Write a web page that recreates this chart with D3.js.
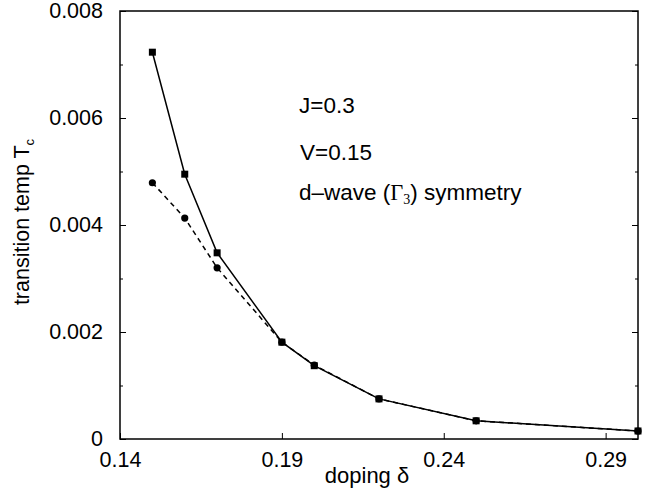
<!DOCTYPE html>
<html>
<head>
<meta charset="utf-8">
<script src="https://cdn.jsdelivr.net/npm/d3@7"></script>
<style>
  body { margin: 0; background: #fff; }
  text { font-family: "Liberation Sans", Arial, sans-serif; }
</style>
</head>
<body>
<div id="chart"></div>
<script>
// doping values (x)
const doping = [0.15, 0.16, 0.17, 0.19, 0.20, 0.22, 0.25, 0.30];
// solid line with squares
const tcSquares = [0.00723, 0.00495, 0.00348, 0.00181, 0.00137, 0.00075, 0.00034, 0.00015];
// dashed line with circles
const tcCircles = [0.00479, 0.00413, 0.00320, 0.00181, 0.00138, 0.00075, 0.00034, 0.00015];
const xTicks = [0.14, 0.19, 0.24, 0.29];
const yTicks = [0, 0.002, 0.004, 0.006, 0.008];
const yMinorTicks = [0.001, 0.003, 0.005, 0.007];

const W = 650, H = 495;
let margin = {top: 11, right: 12, bottom: 56, left: 120},
  width = W - margin.left - margin.right,
  height = H - margin.top - margin.bottom;

let svg = d3.select("#chart")
  .append("svg")
  .attr("width", W)
  .attr("height", H)
  .append("g")
  .attr("transform", "translate(" + margin.left + "," + margin.top + ")");

let x = d3.scaleLinear().domain([0.14, 0.30]).range([0, width]);
let y = d3.scaleLinear().domain([0, 0.008]).range([height, 0]);

// frame
svg.append("rect")
  .attr("width", width)
  .attr("height", height)
  .attr("fill", "none")
  .attr("stroke", "#000")
  .attr("stroke-width", 1.5);

// left axis (inward ticks)
svg.append("g")
  .call(d3.axisLeft(y).tickValues(yTicks).tickSize(-6).tickPadding(17)
    .tickFormat(d => d === 0 ? "0" : d3.format(".3f")(d)))
  .call(g => g.select(".domain").remove())
  .call(g => g.selectAll("text").attr("font-size", 21.5).attr("font-family", "Liberation Sans, Arial, sans-serif"));
svg.append("g")
  .call(d3.axisLeft(y).tickValues(yMinorTicks).tickSize(-3).tickFormat(""))
  .call(g => g.select(".domain").remove());

// right axis ticks
svg.append("g")
  .attr("transform", `translate(${width},0)`)
  .call(d3.axisRight(y).tickValues(yTicks).tickSize(-6).tickFormat(""))
  .call(g => g.select(".domain").remove());
svg.append("g")
  .attr("transform", `translate(${width},0)`)
  .call(d3.axisRight(y).tickValues(yMinorTicks).tickSize(-3).tickFormat(""))
  .call(g => g.select(".domain").remove());

// bottom axis
svg.append("g")
  .attr("transform", `translate(0,${height})`)
  .call(d3.axisBottom(x).tickValues(xTicks).tickSize(-6).tickPadding(13)
    .tickFormat(d3.format(".2f")))
  .call(g => g.select(".domain").remove())
  .call(g => g.selectAll("text").attr("font-size", 21.5).attr("font-family", "Liberation Sans, Arial, sans-serif"));

// axis labels
svg.append("text")
  .attr("x", 247)
  .attr("y", 472)
  .attr("text-anchor", "middle")
  .attr("font-size", 22)
  .text("doping δ");

let ylab = svg.append("text")
  .attr("transform", "translate(-91,211) rotate(-90)")
  .attr("text-anchor", "middle")
  .attr("font-size", 21.5);
ylab.append("tspan").text("transition temp T");
ylab.append("tspan").attr("font-size", 13).attr("dy", 5).text("c");

const pts = d => doping.map((v, i) => [v, d[i]]);

// dashed line (circles)
svg.append("path")
  .datum(pts(tcCircles))
  .attr("fill", "none")
  .attr("stroke", "#000")
  .attr("stroke-width", 1.5)
  .attr("stroke-dasharray", "5,4")
  .attr("d", d3.line().x(d => x(d[0])).y(d => y(d[1])));

// solid line (squares)
svg.append("path")
  .datum(pts(tcSquares))
  .attr("fill", "none")
  .attr("stroke", "#000")
  .attr("stroke-width", 1.5)
  .attr("d", d3.line().x(d => x(d[0])).y(d => y(d[1])));

svg.selectAll("rect.pt")
  .data(pts(tcSquares))
  .enter()
  .append("rect")
  .attr("class", "pt")
  .attr("x", d => x(d[0]) - 3.5)
  .attr("y", d => y(d[1]) - 3.5)
  .attr("width", 7)
  .attr("height", 7)
  .attr("fill", "#000");

// circles drawn last so they sit on top where both coincide
svg.selectAll("circle.pt")
  .data(pts(tcCircles))
  .enter()
  .append("circle")
  .attr("class", "pt")
  .attr("cx", d => x(d[0]))
  .attr("cy", d => y(d[1]))
  .attr("r", 3.6)
  .attr("fill", "#000");

// annotations
const ann = svg.append("g").attr("font-size", 22.5);
ann.append("text").attr("x", 179).attr("y", 102).text("J=0.3");
ann.append("text").attr("x", 180).attr("y", 149).text("V=0.15");
let t3 = ann.append("text").attr("x", 179).attr("y", 189);
t3.append("tspan").text("d–wave (");
t3.append("tspan").attr("font-family", "Liberation Serif, Times New Roman, serif").text("Γ");
t3.append("tspan").attr("font-family", "Liberation Serif, Times New Roman, serif").attr("font-size", 14).attr("dy", 4).text("3");
t3.append("tspan").attr("dy", -4).text(") symmetry");
</script>
</body>
</html>
